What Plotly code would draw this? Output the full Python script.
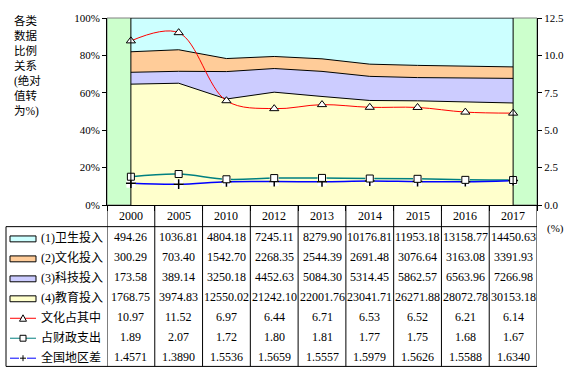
import plotly.graph_objects as go

# ---------------- data ----------------
years = ['2000', '2005', '2010', '2012', '2013', '2014', '2015', '2016', '2017']
health = [494.26, 1036.81, 4804.18, 7245.11, 8279.90, 10176.81, 11953.18, 13158.77, 14450.63]
culture = [300.29, 703.40, 1542.70, 2268.35, 2544.39, 2691.48, 3076.64, 3163.08, 3391.93]
science = [173.58, 389.14, 3250.18, 4452.63, 5084.30, 5314.45, 5862.57, 6563.96, 7266.98]
education = [1768.75, 3974.83, 12550.02, 21242.10, 22001.76, 23041.71, 26271.88, 28072.78, 30153.18]
culture_share = [10.97, 11.52, 6.97, 6.44, 6.71, 6.53, 6.52, 6.21, 6.14]
fiscal_share = [1.89, 2.07, 1.72, 1.80, 1.81, 1.77, 1.75, 1.68, 1.67]
region_gap = [1.4571, 1.3890, 1.5536, 1.5659, 1.5557, 1.5979, 1.5626, 1.5588, 1.6340]
left_ticks = [0, 20, 40, 60, 80, 100]
left_tick_text = ['0%', '20%', '40%', '60%', '80%', '100%']
right_ticks = [0, 2.5, 5.0, 7.5, 10.0, 12.5]
right_tick_text = ['0.0', '2.5', '5.0', '7.5', '10.0', '12.5']

# ---------------- geometry helpers (pixels -> paper) ----------------
W, H = 577, 376
L, R, T, B = 107, 537, 15, 205
def px(x):
    return (x - L) / (R - L)
def py(y):
    return (B - y) / (B - T)

xc = [i + 0.5 for i in range(len(years))]
SERIF = 'Liberation Serif, Noto Sans CJK SC'
CJK = 'Liberation Serif, Noto Sans CJK SC'

fig = go.Figure()

area_series = [
    ('(4)教育投入', education, '#FFFFCC'),
    ('(3)科技投入', science, '#CCCCFF'),
    ('(2)文化投入', culture, '#FFCC99'),
    ('(1)卫生投入', health, '#CCFFFF'),
]
for name, vals, col in area_series:
    fig.add_trace(go.Scatter(
        x=xc, y=vals, name=name, stackgroup='one', groupnorm='percent',
        mode='lines', line=dict(color='black', width=1), fillcolor=col,
        showlegend=False, hoverinfo='skip'))

# lines on secondary axis
fig.add_trace(go.Scatter(
    x=xc, y=fiscal_share, yaxis='y2', mode='lines', name='占财政支出',
    line=dict(color='#008080', width=1.5, shape='spline'), showlegend=False))
fig.add_trace(go.Scatter(
    x=xc, y=region_gap, yaxis='y2', mode='lines', name='全国地区差',
    line=dict(color='#0000FF', width=1.5, shape='spline'), showlegend=False))
fig.add_trace(go.Scatter(
    x=xc, y=culture_share, yaxis='y2', mode='lines+markers', name='文化占其中',
    line=dict(color='#FF0000', width=1, shape='spline'),
    marker=dict(symbol='triangle-up', size=8, color='white', line=dict(color='black', width=1)),
    showlegend=False))
fig.add_trace(go.Scatter(
    x=xc, y=region_gap, yaxis='y2', mode='markers', showlegend=False, hoverinfo='skip',
    marker=dict(symbol='square', size=9, color='white', line=dict(width=0))))
fig.add_trace(go.Scatter(
    x=xc, y=region_gap, yaxis='y2', mode='markers', showlegend=False,
    marker=dict(symbol='cross-thin', size=7, line=dict(color='black', width=1.5))))
fig.add_trace(go.Scatter(
    x=xc, y=fiscal_share, yaxis='y2', mode='markers', showlegend=False,
    marker=dict(symbol='square', size=7, color='white', line=dict(color='black', width=1))))

shapes = []
# plot border (gray) and vertical edges of the area block
shapes.append(dict(type='rect', xref='paper', yref='paper', x0=0, x1=1, y0=0, y1=1,
                   line=dict(color='#808080', width=1), layer='below'))
for xv in (xc[0], xc[-1]):
    shapes.append(dict(type='line', xref='x', yref='y', x0=xv, x1=xv, y0=0, y1=100,
                       line=dict(color='black', width=1)))

# ---------------- data table ----------------
TAB_LEFT, HEAD_BOT, TAB_BOT = 6, 227, 369
line_k = dict(color='black', width=1)
shapes.append(dict(type='line', xref='paper', yref='paper', x0=px(TAB_LEFT), x1=1,
                   y0=py(HEAD_BOT), y1=py(HEAD_BOT), line=line_k))
shapes.append(dict(type='line', xref='paper', yref='paper', x0=px(TAB_LEFT), x1=1,
                   y0=py(TAB_BOT), y1=py(TAB_BOT), line=line_k))
shapes.append(dict(type='line', xref='paper', yref='paper', x0=px(TAB_LEFT), x1=px(TAB_LEFT),
                   y0=py(HEAD_BOT), y1=py(TAB_BOT), line=line_k))
for k in range(len(years) + 1):
    shapes.append(dict(type='line', xref='x', yref='paper', x0=k, x1=k,
                       y0=0, y1=py(TAB_BOT), line=line_k))

annotations = []
for i, yr in enumerate(years):
    annotations.append(dict(x=xc[i], y=py(216.5), xref='x', yref='paper', text=yr,
                            xanchor='center', yanchor='middle',
                            showarrow=False, font=dict(family=SERIF, size=12, color='black')))

rows = [
    ('(1)卫生投入', health, 2, ('rect', '#CCFFFF')),
    ('(2)文化投入', culture, 2, ('rect', '#FFCC99')),
    ('(3)科技投入', science, 2, ('rect', '#CCCCFF')),
    ('(4)教育投入', education, 2, ('rect', '#FFFFCC')),
    ('文化占其中', culture_share, 2, ('line', '#FF0000', 'tri')),
    ('占财政支出', fiscal_share, 2, ('line', '#008080', 'sq')),
    ('全国地区差', region_gap, 4, ('line', '#0000FF', 'plus')),
]
row_h = (TAB_BOT - HEAD_BOT) / len(rows)
for r, (label, vals, dec, key) in enumerate(rows):
    yc = HEAD_BOT + row_h * (r + 0.5) + 0.8
    for i, v in enumerate(vals):
        annotations.append(dict(x=xc[i], y=py(yc), xref='x', yref='paper',
                                text=f'{v:.{dec}f}', showarrow=False,
                                xanchor='center', yanchor='middle',
                                font=dict(family=SERIF, size=12, color='black')))
    annotations.append(dict(x=px(39), y=py(yc), xref='paper', yref='paper', text=label,
                            xanchor='left', yanchor='middle', showarrow=False,
                            font=dict(family=CJK, size=12, color='black')))
    if key[0] == 'rect':
        shapes.append(dict(type='rect', xref='paper', yref='paper', x0=px(10), x1=px(36),
                           y0=py(yc - 1.5), y1=py(yc + 4.5), fillcolor=key[1],
                           line=dict(color='black', width=1)))
    else:
        shapes.append(dict(type='line', xref='paper', yref='paper', x0=px(10), x1=px(36),
                           y0=py(yc + 1), y1=py(yc + 1), line=dict(color=key[1], width=1)))
        cx, cy = 23, yc + 1
        if key[2] == 'tri':
            path = (f'M {px(cx-3.5)},{py(cy+3)} L {px(cx+3.5)},{py(cy+3)} '
                    f'L {px(cx)},{py(cy-3.5)} Z')
            shapes.append(dict(type='path', xref='paper', yref='paper', path=path,
                               fillcolor='white', line=dict(color='black', width=1)))
        elif key[2] == 'sq':
            shapes.append(dict(type='rect', xref='paper', yref='paper', x0=px(cx-3), x1=px(cx+3),
                               y0=py(cy+3), y1=py(cy-3), fillcolor='white',
                               line=dict(color='black', width=1)))
        else:
            shapes.append(dict(type='rect', xref='paper', yref='paper', x0=px(cx-4), x1=px(cx+4),
                               y0=py(cy+4), y1=py(cy-4), fillcolor='white',
                               line=dict(width=0)))
            shapes.append(dict(type='line', xref='paper', yref='paper', x0=px(cx-3), x1=px(cx+3),
                               y0=py(cy), y1=py(cy), line=dict(color='black', width=1)))
            shapes.append(dict(type='line', xref='paper', yref='paper', x0=px(cx), x1=px(cx),
                               y0=py(cy-3), y1=py(cy+3), line=dict(color='black', width=1)))

# left title and right unit
annotations.append(dict(x=px(12), y=py(9), xref='paper', yref='paper',
                        text='各类<br>数据<br>比例<br>关系<br>(绝对<br>值转<br>为%)',
                        xanchor='left', yanchor='top', align='left', showarrow=False,
                        font=dict(family=CJK, size=11.5, color='black')))
annotations.append(dict(x=px(555), y=py(229), xref='paper', yref='paper', text='(%)',
                        xanchor='center', yanchor='middle',
                        showarrow=False, font=dict(family=SERIF, size=11, color='black')))

tickfont = dict(family='Liberation Serif', size=11, color='black')
fig.update_layout(
    width=W, height=H, autosize=False,
    margin=dict(l=L, r=W - R, t=T, b=H - B, pad=0),
    plot_bgcolor='#CCFFCC', paper_bgcolor='white', showlegend=False,
    xaxis=dict(range=[0, len(years)], tickvals=list(range(len(years) + 1)), showticklabels=False,
               ticks='outside', ticklen=5, tickcolor='black', showline=True, linecolor='black',
               linewidth=1, showgrid=False, zeroline=False),
    yaxis=dict(range=[0, 100], tickmode='array', tickvals=left_ticks, ticktext=left_tick_text,
               ticks='outside', ticklen=4,
               tickcolor='black', showline=True, linecolor='black', linewidth=1,
               showgrid=False, zeroline=False, tickfont=tickfont),
    yaxis2=dict(overlaying='y', side='right', range=[0, 12.5], tickmode='array',
                tickvals=right_ticks, ticktext=right_tick_text,
                ticks='outside', ticklen=4, tickcolor='black',
                showline=True, linecolor='black', linewidth=1, showgrid=False,
                zeroline=False, tickfont=tickfont),
    shapes=shapes, annotations=annotations,
)

post = ("document.body.style.margin='0';document.body.style.padding='0';"
        "document.body.style.overflow='hidden';"
        "var gd=document.getElementById('{plot_id}');"
        "Plotly.relayout(gd,{width:%d,height:%d});" % (W, H))
fig.write_html('out.html', config={'responsive': False, 'displayModeBar': False},
               post_script=post)
